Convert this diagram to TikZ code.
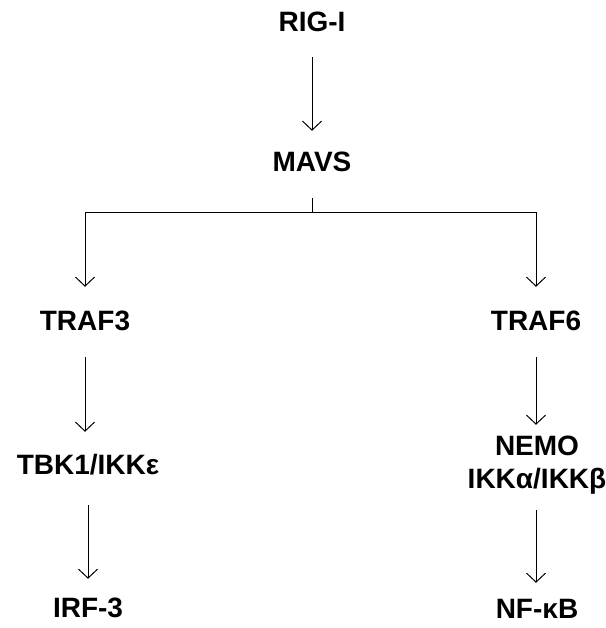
\documentclass[tikz,border=0pt]{standalone}
\usepackage{fontspec}
\setmainfont{Liberation Sans}
\usetikzlibrary{arrows.meta}
\tikzset{
  lbl/.style={font=\fontsize{28}{33}\selectfont\bfseries, inner sep=0pt, text height=20pt, text depth=0pt},
  lbltwo/.style={font=\fontsize{28}{33}\selectfont\bfseries, inner sep=0pt, align=center, text height=53pt, text depth=0pt},
  arr/.style={-{Straight Barb[length=9pt,width=19pt]}, line width=1pt},
  ln/.style={line width=1pt}
}
\begin{document}
\begin{tikzpicture}[x=1pt,y=-1pt]
\useasboundingbox (0,0) rectangle (605,628);
\node[lbl] (rig) at (312,22) {RIG-I};
\node[lbl] (mavs) at (312,162) {MAVS};
\node[lbl] (traf3) at (85,320) {TRAF3};
\node[lbl] (traf6) at (536,320) {TRAF6};
\node[lbl] (tbk) at (88,464) {TBK1/IKKε};
\node[lbl] (irf) at (88,607) {IRF-3};
\node[lbltwo, anchor=base] (nemo) at (537,488) {NEMO\\IKKα/IKKβ};
\node[lbl] (nfkb) at (537,608) {NF-κB};
\coordinate (br) at (312,212);
\draw[arr, shorten <=25pt, shorten >=21pt] (rig.south) -- (mavs.north);
\draw[ln, shorten <=26pt] (mavs.south) -- (br);
\draw[arr, shorten >=23pt] (br) -| (traf3.north);
\draw[arr, shorten >=23pt] (br) -| (traf6.north);
\draw[arr, shorten <=27pt, shorten >=22pt] (traf3.south) -- (traf3.south |- tbk.north);
\draw[arr, shorten <=31pt, shorten >=18pt] (tbk.south) -- (tbk.south |- irf.north);
\draw[arr, shorten <=27pt, shorten >=10pt] (traf6.south) -- (traf6.south |- nemo.north);
\draw[arr, shorten <=22pt, shorten >=15pt] (traf6.south |- nemo.south) -- (traf6.south |- nfkb.north);
\end{tikzpicture}
\end{document}
